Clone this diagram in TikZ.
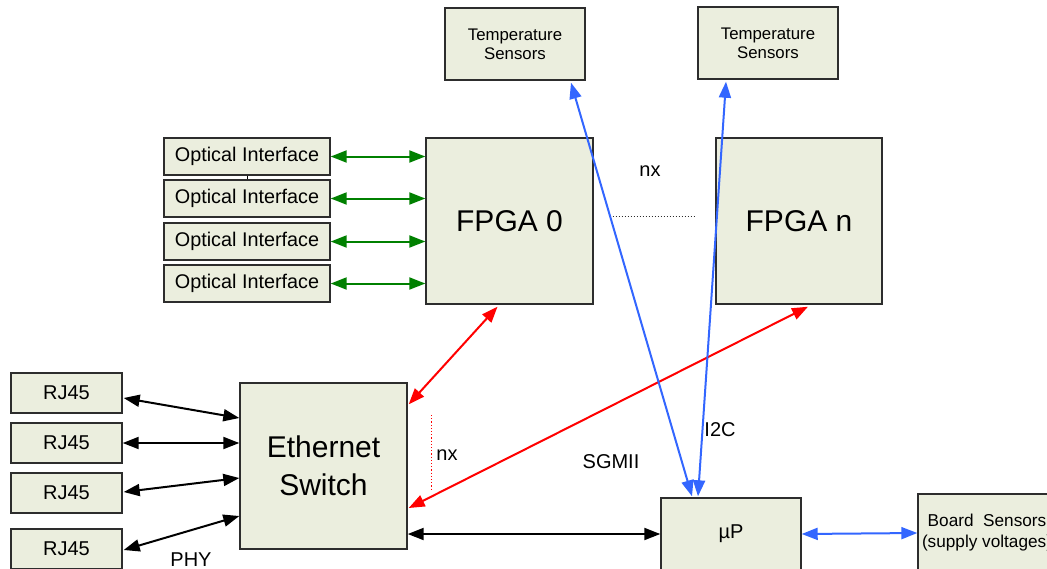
\documentclass[tikz,border=0pt]{standalone}
\usepackage{fontspec}
\setmainfont{Liberation Sans}
\usetikzlibrary{arrows.meta,calc}
\definecolor{boxfill}{RGB}{235,238,222}
\definecolor{boxline}{RGB}{45,45,45}
\definecolor{optlink}{RGB}{0,128,0}
\definecolor{sgmiilink}{RGB}{255,0,0}
\definecolor{ilink}{RGB}{51,102,255}
\tikzstyle{block} = [draw=boxline, fill=boxfill, line width=0.7pt, inner sep=0pt, align=center]
\tikzstyle{both} = [{Triangle[length=8pt,width=6pt]}-{Triangle[length=8pt,width=6pt]}, line width=1pt]
\tikzstyle{label} = [font=\fontsize{10}{12}\selectfont]

\begin{document}
\begin{tikzpicture}[x=0.5pt, y=-0.5pt]
            \useasboundingbox (0,0) rectangle (1047,568);
            \clip (0,0) rectangle (1047,568);

            % sensors on top
            \node[block, minimum width=70pt, minimum height=36pt, font=\fontsize{8.4}{9.5}\selectfont]
                (temp0) at (515,44) {Temperature\\Sensors};
            \node[block, minimum width=70pt, minimum height=36pt, font=\fontsize{8.4}{9.5}\selectfont]
                (tempn) at (768,43) {Temperature\\Sensors};

            % optical interfaces
            \foreach \i/\y in {1/156.5, 2/198.5, 3/241.5, 4/283.5}
                \node[block, minimum width=83pt, minimum height=18.5pt, font=\fontsize{9.9}{12}\selectfont]
                    (opt\i) at (247,\y) {Optical Interface};

            % fpgas
            \node[block, minimum width=83.5pt, minimum height=83pt, font=\fontsize{15}{18}\selectfont]
                (fpga0) at (509.5,221) {FPGA 0};
            \node[block, minimum width=83pt, minimum height=83pt, font=\fontsize{15}{18}\selectfont]
                (fpgan) at (799,221) {FPGA n};

            % switch and ports
            \node[block, minimum width=83.5pt, minimum height=83pt, font=\fontsize{15}{19}\selectfont]
                (eth) at (323.5,466) {Ethernet\\Switch};
            \foreach \i/\y in {0/393, 1/443, 2/493, 3/549}
                \node[block, minimum width=55.5pt, minimum height=20pt, font=\fontsize{10}{12}\selectfont]
                    (rj\i) at (66.5,\y) {RJ45};

            % micro controller and board sensors
            \node[block, minimum width=70pt, minimum height=36pt, font=\fontsize{10}{12}\selectfont]
                (up) at (731,534) {µP};
            \node[block, minimum width=69pt, minimum height=39pt, font=\fontsize{8.6}{10.5}\selectfont]
                (board) at (987,533) {Board~~Sensors\\(supply voltages)};

            % links
            \draw[line width=0.5pt] (opt1) -- (opt2);
            \foreach \i in {1,...,4}
                \draw[both, optlink] (opt\i.east) -- (opt\i.east -| fpga0.west);

            \draw[both, sgmiilink] ($(fpga0.south)+(-12,2)$) -- ($(eth.north east)+(1,22)$);
            \draw[both, sgmiilink] ($(fpgan.south)+(9,2)$) -- ($(eth.east)+(1,42)$);
            \draw[sgmiilink, densely dotted, line width=0.6pt] ($(eth.east)+(24,-51)$) -- ($(eth.east)+(24,24)$);
            \draw[boxline, densely dotted, line width=0.5pt] ($(fpga0.east)+(16,-5)$) -- ($(fpgan.west)+(-19,-5)$);

            \draw[both] (eth.east |- up.west) -- (up.west);
            \draw[both] ($(rj0.east)+(1,5)$) -- ($(eth.west)+(0,-48)$);
            \draw[both] (rj1.east) -- (eth.west |- rj1.east);
            \draw[both] ($(rj2.east)+(1,-1)$) -- ($(eth.west)+(0,12)$);
            \draw[both] ($(rj3.east)+(1,1)$) -- ($(eth.west)+(0,50)$);

            \draw[both, ilink] ($(temp0.south)+(56,2)$) -- ($(up.north)+(-39,-1)$);
            \draw[both, ilink] ($(tempn.south)+(-42,2)$) -- ($(up.north)+(-33,-1)$);
            \draw[both, ilink] (up.east) -- (board.west);

            % labels
            \node[label] (nxf) at (650,171) {nx};
            \node[label] (nxe) at (447,455) {nx};
            \node[label] (sgmii) at (611,462) {SGMII};
            \node[label] (itc) at (720,430) {I2C};
            \node[label] (phy) at (191,560) {PHY};
        \end{tikzpicture}
\end{document}
